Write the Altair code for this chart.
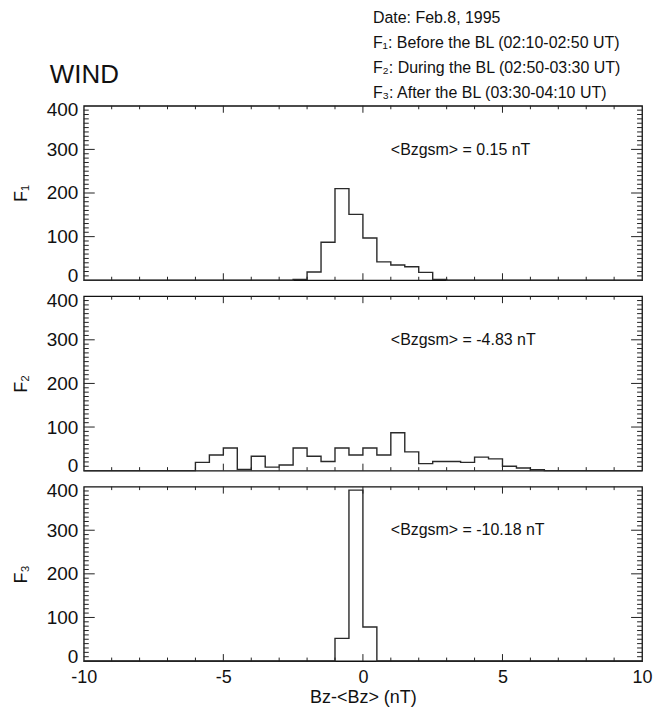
import altair as alt
import pandas as pd

# ---------------- data ----------------
BIN_EDGES = [-10.0, -9.5, -9.0, -8.5, -8.0, -7.5, -7.0, -6.5, -6.0, -5.5,
             -5.0, -4.5, -4.0, -3.5, -3.0, -2.5, -2.0, -1.5, -1.0, -0.5,
             0.0, 0.5, 1.0, 1.5, 2.0, 2.5, 3.0, 3.5, 4.0, 4.5,
             5.0, 5.5, 6.0, 6.5, 7.0, 7.5, 8.0, 8.5, 9.0, 9.5, 10.0]

COUNTS_F1 = [0, 0, 0, 0, 0, 0, 0, 0, 0, 0,
             0, 0, 0, 0, 0, 2, 19, 87, 210, 151,
             97, 42, 35, 31, 18, 2, 0, 0, 0, 0,
             0, 0, 0, 0, 0, 0, 0, 0, 0, 0]
COUNTS_F2 = [0, 0, 0, 0, 0, 0, 0, 0, 19, 36,
             52, 3, 33, 8, 13, 52, 33, 21, 52, 36,
             52, 36, 87, 43, 16, 21, 21, 19, 31, 27,
             10, 6, 2, 0, 0, 0, 0, 0, 0, 0]
COUNTS_F3 = [0, 0, 0, 0, 0, 0, 0, 0, 0, 0,
             0, 0, 0, 0, 0, 0, 0, 0, 52, 392,
             78, 0, 0, 0, 0, 0, 0, 0, 0, 0,
             0, 0, 0, 0, 0, 0, 0, 0, 0, 0]

PANEL_TITLES = ["F\u2081", "F\u2082", "F\u2083"]
ANNOTATIONS = ["<Bzgsm> =  0.15 nT", "<Bzgsm> = -4.83 nT", "<Bzgsm> = -10.18 nT"]
HEADER_LINES = ["Date: Feb.8, 1995",
                "F\u2081: Before the BL (02:10-02:50 UT)",
                "F\u2082: During the BL (02:50-03:30 UT)",
                "F\u2083: After the BL (03:30-04:10 UT)"]
MAIN_TITLE = "WIND"
X_TITLE = "Bz-<Bz> (nT)"

X_DOMAIN = [-10, 10]
Y_DOMAIN = [0, 400]
X_LABEL_VALUES = [-10, -5, 0, 5, 10]
Y_LABEL_VALUES = [0, 100, 200, 300, 400]
X_MAJOR_TICKS = [-5, 0, 5]
X_MINOR_TICKS = [-9, -8, -7, -6, -4, -3, -2, -1, 1, 2, 3, 4, 6, 7, 8, 9]
Y_MAJOR_TICKS = [100, 200, 300]
Y_MINOR_TICKS = [10, 20, 30, 40, 50, 60, 70, 80, 90,
                 110, 120, 130, 140, 150, 160, 170, 180, 190,
                 210, 220, 230, 240, 250, 260, 270, 280, 290,
                 310, 320, 330, 340, 350, 360, 370, 380, 390]

# ---------------- styling ----------------
FONT = "Liberation Sans"
W, H = 560, 175
INK = "#111111"
xscale = alt.Scale(domain=X_DOMAIN, nice=False, zero=False)
yscale = alt.Scale(domain=Y_DOMAIN, nice=False, zero=False)


def tick_rules(vals, axis, length, side, xaxis, yaxis):
    df = pd.DataFrame({"v": vals})
    base = alt.Chart(df).mark_rule(color="#222222", strokeWidth=1)
    if axis == "x":
        enc = dict(x=alt.X("v:Q", scale=xscale, axis=xaxis))
        if side == "bottom":
            enc.update(y=alt.value(H), y2=alt.value(H - length))
        else:
            enc.update(y=alt.value(0), y2=alt.value(length))
    else:
        enc = dict(y=alt.Y("v:Q", scale=yscale, axis=yaxis))
        if side == "left":
            enc.update(x=alt.value(0), x2=alt.value(length))
        else:
            enc.update(x=alt.value(W), x2=alt.value(W - length))
    return base.encode(**enc)


def panel(counts, ytitle, note, bottom=False, top=False):
    df = pd.DataFrame({"x": BIN_EDGES, "n": counts + [counts[-1]]})
    yaxis = alt.Axis(
        values=Y_LABEL_VALUES, ticks=False, domain=False, grid=False,
        labelFlush=True, labelFlushOffset=5, labelOverlap=False,
        labelFontSize=19, labelColor=INK, labelPadding=6,
        title=ytitle, titleFontSize=18, titleFontWeight="normal",
        titleColor=INK, titlePadding=16,
    )
    if bottom:
        xaxis = alt.Axis(
            values=X_LABEL_VALUES, ticks=False, domain=False, grid=False,
            labelFlush=False, labelOverlap=False, labelFontSize=18,
            labelColor=INK, labelPadding=7, labelExpr="'' + datum.value",
            title=X_TITLE, titleFontSize=18, titleFontWeight="normal",
            titleColor=INK, titlePadding=3,
        )
    else:
        xaxis = None
    line = alt.Chart(df).mark_line(
        interpolate="step-after", color="#2a2a2a", strokeWidth=1.4
    ).encode(
        x=alt.X("x:Q", scale=xscale, axis=xaxis),
        y=alt.Y("n:Q", scale=yscale, axis=yaxis),
    )
    ann = alt.Chart(pd.DataFrame({"t": [note]})).mark_text(
        align="left", baseline="middle", fontSize=16, color=INK
    ).encode(x=alt.value(308), y=alt.value(44), text="t:N")

    layers = [line, ann]
    for vals, ax, ln, side in [
        (X_MAJOR_TICKS, "x", 7, "bottom"), (X_MAJOR_TICKS, "x", 7, "top"),
        (X_MINOR_TICKS, "x", 3.5, "bottom"), (X_MINOR_TICKS, "x", 3.5, "top"),
        (Y_MAJOR_TICKS, "y", 11, "left"), (Y_MAJOR_TICKS, "y", 11, "right"),
        (Y_MINOR_TICKS, "y", 5, "left"), (Y_MINOR_TICKS, "y", 5, "right"),
    ]:
        layers.append(tick_rules(vals, ax, ln, side, xaxis, yaxis))
    if top:
        one = pd.DataFrame({"t": ["h"]})
        header = alt.Chart(one).mark_text(
            text=HEADER_LINES, align="left", baseline="alphabetic",
            fontSize=16, lineHeight=25, color=INK
        ).encode(x=alt.value(290), y=alt.value(-83))
        wind = alt.Chart(one).mark_text(
            text=MAIN_TITLE, align="left", baseline="alphabetic",
            fontSize=26, color=INK
        ).encode(x=alt.value(-34), y=alt.value(-23))
        layers += [header, wind]
    return alt.layer(*layers).properties(width=W, height=H)


chart = alt.vconcat(
    panel(COUNTS_F1, PANEL_TITLES[0], ANNOTATIONS[0], top=True),
    panel(COUNTS_F2, PANEL_TITLES[1], ANNOTATIONS[1]),
    panel(COUNTS_F3, PANEL_TITLES[2], ANNOTATIONS[2], bottom=True),
    spacing=16,
    bounds="flush",
).properties(
    padding={"left": 3, "top": 0, "right": 5, "bottom": 0},
    background="white",
).configure(font=FONT).configure_view(stroke="#111111", strokeWidth=1.3)

chart.save("out.html", embed_options={"renderer": "svg", "actions": False})
